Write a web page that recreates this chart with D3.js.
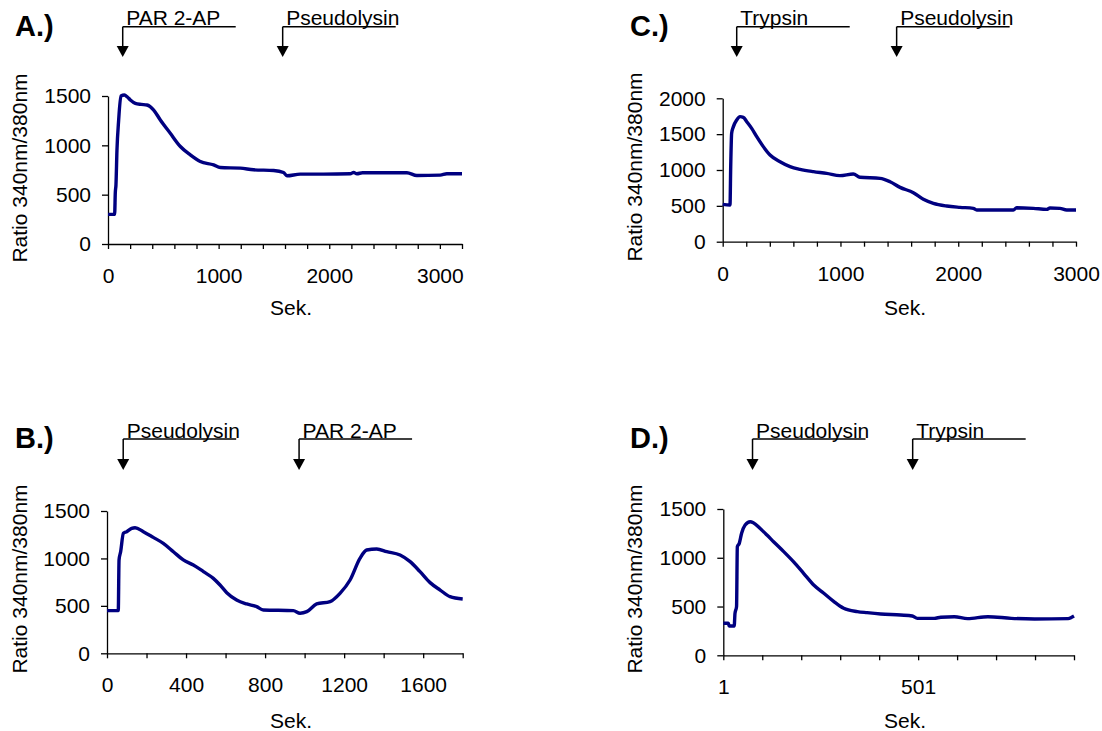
<!DOCTYPE html>
<html><head><meta charset="utf-8">
<script src="https://cdn.jsdelivr.net/npm/d3@7"></script>
<style>
html,body{margin:0;padding:0;background:#fff;}
svg{display:block;font-family:"Liberation Sans",Arial,sans-serif;}
</style></head>
<body>
<svg id="chart" width="1102" height="731"></svg>
<script>
// ---------- Data ----------
const timeA  = [0,60,66,72,81,96,117,148,175,202,247,300,352,413,473,563,654,744,834,955,1015,1196,1316,1497,1587,1617,1738,1949,2190,2220,2250,2300,2702,2792,3003,3063,3200];
const ratioA = [300,300,520,600,950,1250,1500,1510,1490,1460,1426,1415,1409,1358,1257,1122,988,903,836,802,775,769,752,745,725,691,708,708,712,725,712,722,722,694,698,712,712];

const timeB  = [0,57,61,69,83,100,125,142,184,234,285,336,386,437,488,538,572,606,656,707,757,791,943,977,1011,1061,1129,1179,1230,1280,1314,1365,1416,1483,1534,1584,1635,1686,1736,1800];
const ratioB = [450,450,984,1071,1265,1282,1317,1324,1282,1222,1159,1071,984,931,861,790,720,639,562,520,492,457,450,422,439,520,545,632,773,1001,1089,1100,1071,1036,966,861,745,667,597,573];

const timeC  = [0,62,68,76,91,119,147,175,204,246,289,345,402,487,572,657,770,883,996,1109,1166,1336,1421,1506,1619,1704,1789,1902,2015,2128,2157,2468,2496,2638,2751,2779,2864,2921,3000];
const ratioC = [521,512,1047,1512,1605,1698,1744,1735,1674,1581,1465,1326,1209,1116,1047,1009,977,953,921,944,898,884,837,758,684,591,535,498,479,465,442,442,474,465,451,470,465,442,442];

const timeD  = [1,14,16,29,31,35,37,42,48,57,70,78,95,113,130,156,181,207,233,259,285,310,345,370,405,456,486,499,542,559,594,628,680,740,800,886,895,901];
const ratioD = [328,328,301,301,430,499,1114,1148,1251,1336,1370,1360,1302,1233,1165,1063,960,841,721,636,550,482,448,437,424,413,403,379,379,390,396,376,396,379,372,376,390,403];

// x tick positions and which of them carry a label
const xTicksA = d3.range(0, 3201, 200), xLabelsA = [0,1000,2000,3000];
const xTicksB = d3.range(0, 1801, 200), xLabelsB = [0,400,800,1200,1600];
const xTicksC = d3.range(0, 3001, 200), xLabelsC = [0,1000,2000,3000];
const xTicksD = d3.range(1, 902, 100),  xLabelsD = [1,501];
const yTicksA = [0,500,1000,1500];
const yTicksB = [0,500,1000,1500];
const yTicksC = [0,500,1000,1500,2000];
const yTicksD = [0,500,1000,1500];

// stimulus events (time in s, label)
const eventsA = [[133,"PAR 2-AP"],[1579,"Pseudolysin"]];
const eventsB = [[82,"Pseudolysin"],[972,"PAR 2-AP"]];
const eventsC = [[119,"Trypsin"],[1477,"Pseudolysin"]];
const eventsD = [[76,"Pseudolysin"],[487,"Trypsin"]];

const panelNames = ["A.)","B.)","C.)","D.)"];

// ---------- Layout ----------
const svg = d3.select("#chart");
const FS = 21;
const panels = [
  {name:panelNames[0], t:timeA, r:ratioA, xd:[0,3200], xr:[108,462], yd:[0,1500], yr:[244,96], xt:xTicksA, xl:xLabelsA, yt:yTicksA, ev:eventsA,
   nameX:15, nameY:36, evLineY:26.7, evTipY:57, ylabX:20, ylabY:168, sekX:291, sekY:315},
  {name:panelNames[1], t:timeB, r:ratioB, xd:[0,1800], xr:[107,462.7], yd:[0,1500], yr:[653.3,511], xt:xTicksB, xl:xLabelsB, yt:yTicksB, ev:eventsB,
   nameX:15, nameY:448, evLineY:439, evTipY:470, ylabX:20, ylabY:579, sekX:291, sekY:728},
  {name:panelNames[2], t:timeC, r:ratioC, xd:[0,3000], xr:[722.7,1076], yd:[0,2000], yr:[241.7,98.3], xt:xTicksC, xl:xLabelsC, yt:yTicksC, ev:eventsC,
   nameX:630, nameY:36, evLineY:26.7, evTipY:57, ylabX:635, ylabY:167, sekX:905, sekY:315},
  {name:panelNames[3], t:timeD, r:ratioD, xd:[1,901], xr:[723.3,1074], yd:[0,1500], yr:[655.3,509], xt:xTicksD, xl:xLabelsD, yt:yTicksD, ev:eventsD,
   nameX:630, nameY:448, evLineY:439, evTipY:470, ylabX:635, ylabY:579, sekX:905, sekY:728}
];

panels.forEach(p => {
  const g = svg.append("g");
  const x = d3.scaleLinear().domain(p.xd).range(p.xr);
  const y = d3.scaleLinear().domain(p.yd).range(p.yr);

  // axes
  const xa = d3.axisBottom(x).tickValues(p.xt).tickSize(5).tickSizeOuter(0).tickPadding(19)
      .tickFormat(d => p.xl.includes(d) ? String(d) : "");
  const gx = g.append("g").attr("transform", `translate(0,${p.yr[0]})`).call(xa);
  const ya = d3.axisLeft(y).tickValues(p.yt).tickSize(6).tickSizeOuter(0).tickPadding(11)
      .tickFormat(d3.format("d"));
  const gy = g.append("g").attr("transform", `translate(${p.xr[0]},0)`).call(ya);
  [gx, gy].forEach(a => {
    a.selectAll("path.domain").attr("stroke", "#000").attr("stroke-width", 1.3);
    a.selectAll(".tick line").attr("stroke", "#000").attr("stroke-width", 1.3);
    a.selectAll(".tick text").attr("fill", "#000").style("font-size", FS + "px");
  });

  // data line
  const pts = p.t.map((tt, i) => [tt, p.r[i]]);
  g.append("path").datum(pts)
    .attr("fill", "none").attr("stroke", "#000080").attr("stroke-width", 3.4)
    .attr("stroke-linejoin", "round")
    .attr("d", d3.line().curve(d3.curveMonotoneX).x(d => x(d[0])).y(d => y(d[1])));

  // axis titles
  g.append("text").attr("transform", `translate(${p.ylabX + 7},${p.ylabY}) rotate(-90)`)
    .attr("text-anchor", "middle").style("font-size", FS + "px").text("Ratio 340nm/380nm");
  g.append("text").attr("x", p.sekX).attr("y", p.sekY).attr("text-anchor", "middle")
    .style("font-size", FS + "px").text("Sek.");

  // panel letter
  g.append("text").attr("x", p.nameX).attr("y", p.nameY).style("font-size", "29px")
    .style("font-weight", "bold").text(p.name);

  // event arrows
  p.ev.forEach(([tt, lab]) => {
    const ax = x(tt);
    g.append("line").attr("x1", ax).attr("x2", ax + 113).attr("y1", p.evLineY).attr("y2", p.evLineY)
      .attr("stroke", "#000").attr("stroke-width", 1.5);
    g.append("line").attr("x1", ax).attr("x2", ax).attr("y1", p.evLineY).attr("y2", p.evTipY - 10)
      .attr("stroke", "#000").attr("stroke-width", 1.5);
    g.append("path").attr("d", `M${ax - 6},${p.evTipY - 11}L${ax + 6},${p.evTipY - 11}L${ax},${p.evTipY}Z`)
      .attr("fill", "#000");
    g.append("text").attr("x", ax + 3.5).attr("y", p.evLineY - 1.5).style("font-size", FS + "px").text(lab);
  });
});
</script>
</body></html>
